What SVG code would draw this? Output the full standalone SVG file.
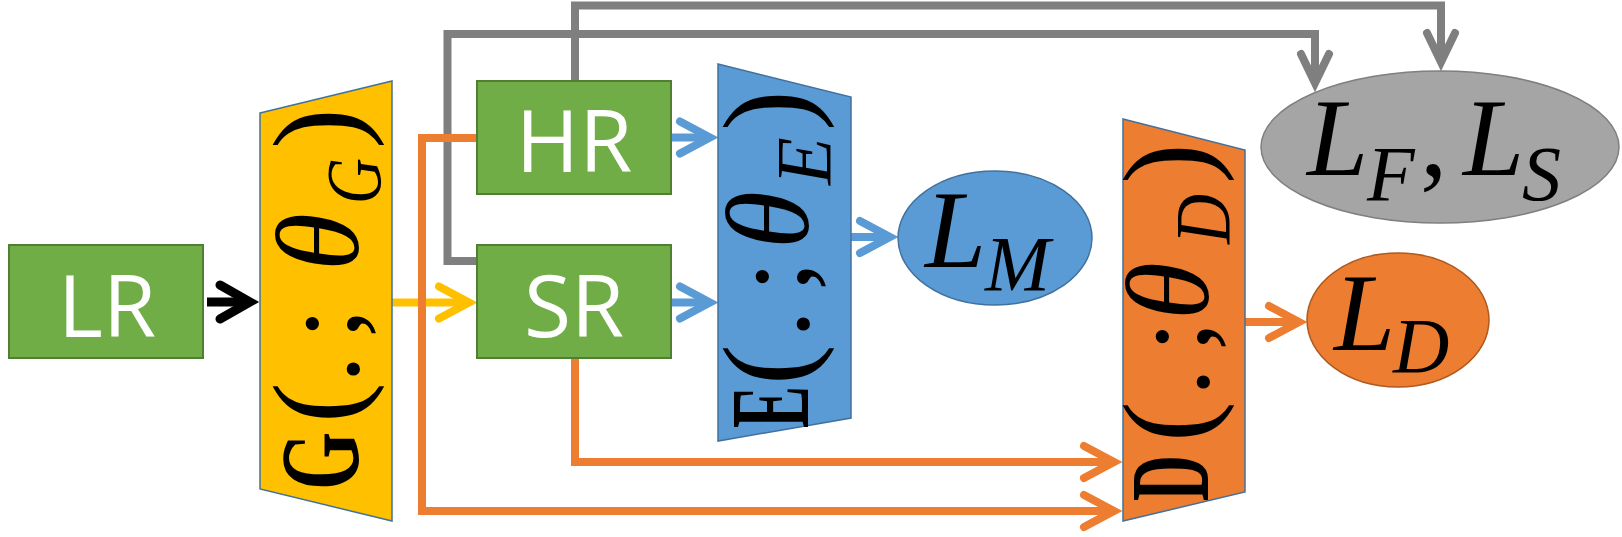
<svg xmlns="http://www.w3.org/2000/svg" width="1622" height="537" viewBox="0 0 1622 537">
<style>
.box{fill:#70AD47;stroke:#507E32;stroke-width:2}
.btxt{font-family:"Open Sans","Noto Sans",sans-serif;font-size:86px;fill:#FFFFFF;text-anchor:middle}
.trap{stroke:#41719C;stroke-width:1.5}
.math{font-family:"Liberation Serif","Times New Roman",serif;font-size:112px;fill:#000000}
.it{font-style:italic;font-size:118px}
.bd{font-weight:bold}
.par{font-size:122px}
.sub{font-size:78px;font-style:italic}
.lm{font-family:"Liberation Serif","Times New Roman",serif;font-size:110px;font-style:italic;fill:#000000}
.conn{fill:none;stroke-width:8;stroke-linejoin:miter;stroke-linecap:butt}
.ah{fill:none;stroke-width:8;stroke-linecap:round;stroke-linejoin:miter}
</style>
<defs>
<marker id="aK" markerUnits="userSpaceOnUse" orient="auto" refX="0" refY="0" markerWidth="60" markerHeight="60" style="overflow:visible"><path class="ah" d="M-30,-17 L0,0 L-30,17" stroke="#000000" style="stroke-width:9"/></marker>
<marker id="aY" markerUnits="userSpaceOnUse" orient="auto" refX="0" refY="0" markerWidth="60" markerHeight="60" style="overflow:visible"><path class="ah" d="M-30,-16 L0,0 L-30,16" stroke="#FFC000"/></marker>
<marker id="aB" markerUnits="userSpaceOnUse" orient="auto" refX="0" refY="0" markerWidth="60" markerHeight="60" style="overflow:visible"><path class="ah" d="M-30,-16 L0,0 L-30,16" stroke="#5B9BD5"/></marker>
<marker id="aO" markerUnits="userSpaceOnUse" orient="auto" refX="0" refY="0" markerWidth="60" markerHeight="60" style="overflow:visible"><path class="ah" d="M-30,-16 L0,0 L-30,16" stroke="#ED7D31"/></marker>
<marker id="aG" markerUnits="userSpaceOnUse" orient="auto" refX="0" refY="0" markerWidth="60" markerHeight="60" style="overflow:visible"><path class="ah" d="M-29,-14 L0,0 L-29,14" stroke="#7F7F7F"/></marker>
</defs>
<rect width="1622" height="537" fill="#FFFFFF"/>
<g id="connectors">
<path class="conn" stroke="#7F7F7F" d="M575,81 V5.5 H1441 V62" marker-end="url(#aG)"/>
<path class="conn" stroke="#7F7F7F" d="M477,261 H447.5 V34 H1315 V83" marker-end="url(#aG)"/>
<path class="conn" stroke="#FFC000" d="M392,302.5 H469" marker-end="url(#aY)"/>
<path class="conn" stroke="#ED7D31" d="M477,138 H422 V511 H1114" marker-end="url(#aO)"/>
<path class="conn" stroke="#ED7D31" d="M575,358 V462 H1114" marker-end="url(#aO)"/>
<path class="conn" stroke="#ED7D31" d="M1245,322 H1299" marker-end="url(#aO)"/>
<path class="conn" stroke="#5B9BD5" d="M671,137.5 H710" marker-end="url(#aB)"/>
<path class="conn" stroke="#5B9BD5" d="M671,302.5 H710" marker-end="url(#aB)"/>
<path class="conn" stroke="#5B9BD5" d="M851,237 H890" marker-end="url(#aB)"/>
<path class="conn" stroke="#000000" style="stroke-width:9" d="M207,302 H250" marker-end="url(#aK)"/>
</g>
<g id="LR">
<rect class="box" x="9" y="245" width="194" height="113"/>
<text class="btxt" x="107" y="337">LR</text>
</g>
<g id="HR">
<rect class="box" x="477" y="81" width="194" height="113"/>
<text class="btxt" x="574" y="172">HR</text>
</g>
<g id="SR">
<rect class="box" x="477" y="245" width="194" height="113"/>
<text class="btxt" x="574" y="337">SR</text>
</g>
<g id="G">
<polygon class="trap" fill="#FFC000" points="260,113 392,81 392,521 260,489"/>
<text class="math" transform="translate(358 488) rotate(-90)"><tspan class="bd" x="-2" y="0" textLength="58" lengthAdjust="spacingAndGlyphs">G</tspan><tspan class="par" x="65" y="0">(</tspan><tspan x="105" y="0">.</tspan><tspan x="149" y="0">;</tspan><tspan class="it" x="217" y="0">θ</tspan><tspan class="sub" x="284" y="22" textLength="46" lengthAdjust="spacingAndGlyphs">G</tspan><tspan class="par" x="339" y="0">)</tspan></text>
</g>
<g id="E">
<polygon class="trap" fill="#5B9BD5" points="718,64 851,97 851,418 718,441"/>
<text class="math" transform="translate(808 427) rotate(-90)"><tspan class="bd" x="-1" y="0" textLength="42" lengthAdjust="spacingAndGlyphs">E</tspan><tspan class="par" x="42" y="0">(</tspan><tspan x="89" y="0">.</tspan><tspan x="135" y="0">;</tspan><tspan class="it" x="178" y="0">θ</tspan><tspan class="sub" x="242" y="22">E</tspan><tspan class="par" x="296" y="0">)</tspan></text>
</g>
<g id="D">
<polygon class="trap" fill="#ED7D31" points="1123,119 1245,150 1245,492 1123,521"/>
<text class="math" transform="translate(1208 500) rotate(-90)"><tspan class="bd" x="-1" y="0" textLength="46" lengthAdjust="spacingAndGlyphs">D</tspan><tspan class="par" x="58" y="0">(</tspan><tspan x="104" y="0">.</tspan><tspan x="148" y="0">;</tspan><tspan class="it" x="180" y="0">θ</tspan><tspan class="sub" x="256" y="21" textLength="50" lengthAdjust="spacingAndGlyphs">D</tspan><tspan class="par" x="316" y="0">)</tspan></text>
</g>
<g id="LM">
<ellipse cx="995" cy="238" rx="97" ry="67" fill="#5B9BD5" stroke="#41719C" stroke-width="1.5"/>
<text class="lm"><tspan x="925" y="267">L</tspan><tspan class="sub" x="985" y="290">M</tspan></text>
</g>
<g id="LFS">
<ellipse cx="1440" cy="147" rx="179" ry="76" fill="#A5A5A5" stroke="#7F7F7F" stroke-width="1.5"/>
<text class="lm"><tspan x="1307" y="175">L</tspan><tspan class="sub" x="1367" y="200">F</tspan><tspan x="1420" y="175" font-style="normal">,</tspan><tspan x="1463" y="175">L</tspan><tspan class="sub" x="1522" y="200">S</tspan></text>
</g>
<g id="LD">
<ellipse cx="1398" cy="320" rx="91" ry="67" fill="#ED7D31" stroke="#AE5A21" stroke-width="1.5"/>
<text class="lm"><tspan x="1334" y="350">L</tspan><tspan class="sub" x="1393" y="372">D</tspan></text>
</g>
</svg>
